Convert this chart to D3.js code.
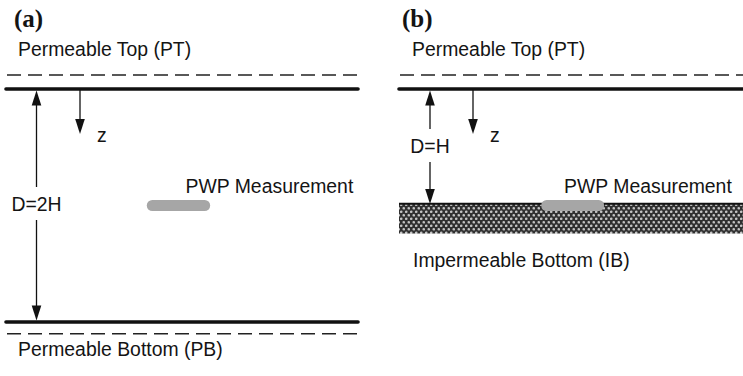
<!DOCTYPE html>
<html>
<head>
<meta charset="utf-8">
<script src="https://cdn.jsdelivr.net/npm/d3@7"></script>
<style>
  html, body { margin: 0; padding: 0; background: #fff; }
  svg { display: block; }
  text { font-family: "Liberation Sans", Arial, sans-serif; fill: #141414; }
</style>
</head>
<body>
<svg id="fig" width="743" height="376"></svg>
<script>
// Consolidation set-ups: depth is expressed in units of H below the permeable top.
const panelIds       = ["a", "b"];
const panelLetters   = ["(a)", "(b)"];
const layerDepth     = [2, 1];            // D = 2H (double drainage), D = H (single drainage)
const depthLabels    = ["D=2H", "D=H"];
const topLabels      = ["Permeable Top (PT)", "Permeable Top (PT)"];
const bottomLabels   = ["Permeable Bottom (PB)", "Impermeable Bottom (IB)"];
const bottomType     = ["permeable", "impermeable"];
const pwpDepth       = [1, 1];            // PWP measured at mid-depth (a) and at the base (b)
const pwpLabel       = "PWP Measurement";
const zLabel         = "z";

const FS = "19.4px";
const svg = d3.select("#fig");

// vertical scale shared by both panels: depth (in H) -> pixels
const y = d3.scaleLinear().domain([0, 2]).range([89, 322]);

// horizontal scales, one per panel, on a 0..1 domain
const xScales = [
  d3.scaleLinear().domain([0, 1]).range([6, 358]),
  d3.scaleLinear().domain([0, 1]).range([399, 745])
];

// dotted fill for the impermeable base
const defs = svg.append("defs");
const pat = defs.append("pattern")
  .attr("id", "clay").attr("patternUnits", "userSpaceOnUse")
  .attr("width", 5).attr("height", 7);
pat.append("rect").attr("width", 5).attr("height", 7).attr("fill", "#303030");
pat.append("circle").attr("cx", 1.25).attr("cy", 1.75).attr("r", 1.3).attr("fill", "#c4c4c4");
pat.append("circle").attr("cx", 3.75).attr("cy", 5.25).attr("r", 1.3).attr("fill", "#c4c4c4");

function arrowHead(g, x, yTip, dir) {
  // dir = +1 points down, -1 points up
  const len = 15, half = 4.8;
  g.append("path")
    .attr("d", `M${x},${yTip} L${x - half},${yTip - dir * len} L${x + half},${yTip - dir * len} Z`)
    .attr("fill", "#111");
}

panelIds.forEach((id, i) => {
  const x = xScales[i];
  const g = svg.append("g").attr("class", "panel-" + id);
  const x0 = x(0), x1 = x(1);
  const yTop = y(0), yBot = y(layerDepth[i]);

  // panel letter
  g.append("text")
    .attr("x", x0 + (i === 0 ? 8 : 3)).attr("y", 27)
    .style("font-family", "'Liberation Serif', 'Times New Roman', serif")
    .style("font-weight", "bold").style("font-size", "25px")
    .text(panelLetters[i]);

  // top boundary: dashed water table and solid surface
  g.append("text").attr("x", x0 + (i === 0 ? 12 : 13)).attr("y", 56)
    .style("font-size", FS).text(topLabels[i]);
  g.append("line").attr("x1", x0 + 1).attr("x2", x1)
    .attr("y1", y(-0.12)).attr("y2", y(-0.12))
    .attr("stroke", "#222").attr("stroke-width", 1.5).attr("stroke-dasharray", "14,7");
  g.append("line").attr("x1", x0).attr("x2", x1)
    .attr("y1", yTop).attr("y2", yTop)
    .attr("stroke", "#111").attr("stroke-width", 3.6).attr("stroke-linecap", "round");

  // bottom boundary
  if (bottomType[i] === "permeable") {
    g.append("line").attr("x1", x0).attr("x2", x1)
      .attr("y1", yBot).attr("y2", yBot)
      .attr("stroke", "#111").attr("stroke-width", 3.6).attr("stroke-linecap", "round");
    g.append("line").attr("x1", x0 + 1).attr("x2", x1)
      .attr("y1", y(layerDepth[i] + 0.1)).attr("y2", y(layerDepth[i] + 0.1))
      .attr("stroke", "#222").attr("stroke-width", 1.5).attr("stroke-dasharray", "14,7");
    g.append("text").attr("x", x0 + 12).attr("y", 356)
      .style("font-size", FS).text(bottomLabels[i]);
  } else {
    const bandTop = yBot - 2.5, bandBot = bandTop + 30.5;
    g.append("rect").attr("x", x0).attr("y", bandTop)
      .attr("width", x1 - x0).attr("height", bandBot - bandTop)
      .attr("fill", "url(#clay)");
    g.append("line").attr("x1", x0).attr("x2", x1)
      .attr("y1", bandTop + 0.8).attr("y2", bandTop + 0.8)
      .attr("stroke", "#111").attr("stroke-width", 2);
    g.append("text").attr("x", x0 + 14).attr("y", 267)
      .style("font-size", FS).text(bottomLabels[i]);
  }

  // depth dimension arrow, broken around its label
  const ax = x0 + (i === 0 ? 30.5 : 31);
  const lbl = depthLabels[i];
  const labelBase = i === 0 ? 211 : 153;
  const gapTop = labelBase - 24, gapBot = labelBase + 9;
  g.append("line").attr("x1", ax).attr("x2", ax)
    .attr("y1", yTop + 14).attr("y2", gapTop)
    .attr("stroke", "#111").attr("stroke-width", 1.3);
  g.append("line").attr("x1", ax).attr("x2", ax)
    .attr("y1", gapBot).attr("y2", yBot - 14)
    .attr("stroke", "#111").attr("stroke-width", 1.3);
  arrowHead(g, ax, yTop + 1.5, -1);
  arrowHead(g, ax, yBot - 1.5, 1);
  g.append("text").attr("x", ax).attr("y", labelBase)
    .attr("text-anchor", "middle").style("font-size", FS).text(lbl);

  // z axis arrow
  const zx = x0 + 74;
  g.append("line").attr("x1", zx).attr("x2", zx)
    .attr("y1", yTop).attr("y2", 120)
    .attr("stroke", "#111").attr("stroke-width", 1.3);
  arrowHead(g, zx, 134, 1);
  g.append("text").attr("x", zx + 17).attr("y", 142)
    .style("font-size", FS).text(zLabel);

  // pore-water-pressure measurement location
  const pw = i === 0 ? [0.40, 0.58] : [0.411, 0.593];
  const py = y(pwpDepth[i]);
  g.append("rect")
    .attr("x", x(pw[0])).attr("y", py - 5.5)
    .attr("width", x(pw[1]) - x(pw[0])).attr("height", 11)
    .attr("rx", 5.5).attr("fill", "#a6a6a6");
  g.append("text")
    .attr("x", i === 0 ? x(0.51) : x(0.477)).attr("y", 193)
    .style("font-size", FS).text(pwpLabel);
});
</script>
</body>
</html>
